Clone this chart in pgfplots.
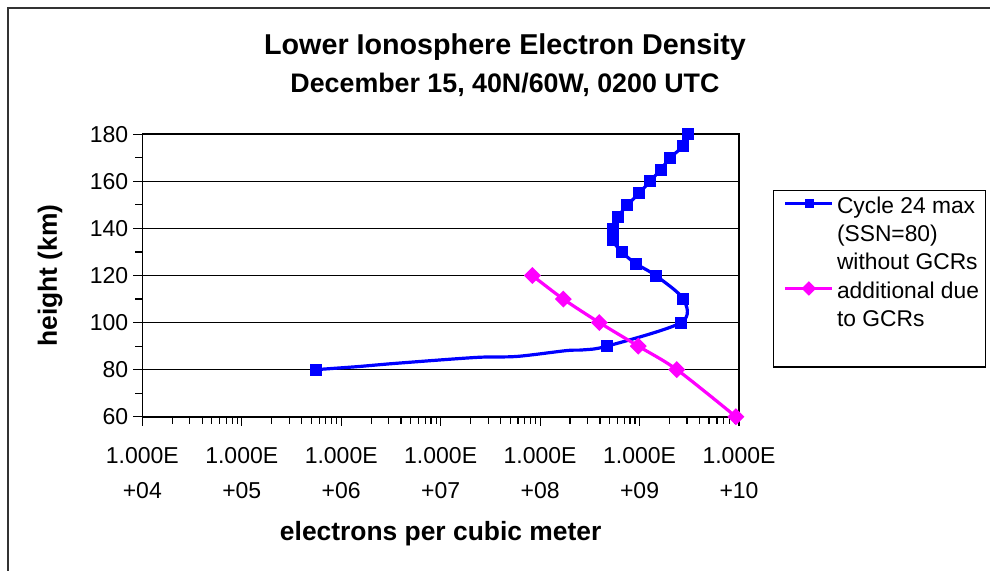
\documentclass[border=0pt]{standalone}
\usepackage{fontspec}
\setmainfont{Liberation Sans}
\usepackage{pgfplots}
\pgfplotsset{compat=1.18}
\definecolor{gcrpink}{RGB}{255,0,255}
\definecolor{cycblue}{RGB}{0,0,255}

% blue profile (km -> electrons/m^3), markers only at these points
\pgfplotstableread{
x y
3.05e9 180
2.75e9 175
2.02e9 170
1.64e9 165
1.27e9 160
9.95e8 155
7.54e8 150
6.11e8 145
5.37e8 140
5.37e8 135
6.61e8 130
9.20e8 125
1.45e9 120
2.75e9 110
2.61e9 100
4.74e8 90
5.55e5 80
}\cyclemarks

% same profile with the unmarked points of the line between 80 and 90 km
\pgfplotstableread{
x y
3.05e9 180
2.75e9 175
2.02e9 170
1.64e9 165
1.27e9 160
9.95e8 155
7.54e8 150
6.11e8 145
5.37e8 140
5.37e8 135
6.61e8 130
9.20e8 125
1.45e9 120
2.75e9 110
2.61e9 100
4.74e8 90
2.72e8 88.4
1.85e8 88.1
5.82e7 85.6
2.31e7 85.2
3.61e6 82.7
1.43e6 81.25
5.55e5 80
}\cycleline

\pgfplotstableread{
x y
8.35e7 120
1.71e8 110
3.94e8 100
9.70e8 90
2.37e9 80
9.30e9 60
}\gcr

\begin{document}
\begin{tikzpicture}
\path[use as bounding box] (0,0) rectangle (495pt,-285.5pt);
\draw[line width=1pt, black!80] (4.15pt,-300pt) -- (4.15pt,-4.15pt) -- (510pt,-4.15pt);
\begin{axis}[
    at={(71.15pt,-208.35pt)}, anchor=south west,
    scale only axis,
    width=298.35pt, height=141.2pt,
    xmode=log,
    xmin=1e4, xmax=1e10,
    ymin=60, ymax=180,
    xtick={1e4,1e5,1e6,1e7,1e8,1e9,1e10},
    xticklabels={{1.000E\\+04},{1.000E\\+05},{1.000E\\+06},{1.000E\\+07},{1.000E\\+08},{1.000E\\+09},{1.000E\\+10}},
    ytick={60,80,...,180},
    minor y tick num=1,
    ymajorgrids,
    grid style={black, line width=0.8pt},
    axis line style={black, line width=0.8pt},
    tick style={black, line width=0.6pt},
    tick align=outside,
    major tick length=4.5pt,
    minor tick length=3.5pt,
    xtick pos=lower, ytick pos=left,
    /pgf/number format/assume math mode=true,
    xticklabel style={align=center, font=\fontsize{11.5}{17.5}\selectfont, yshift=-7.5pt},
    yticklabel style={font=\fontsize{11.5}{14}\selectfont, xshift=1pt},
    title={Lower Ionosphere Electron Density\\{\fontsize{13.4}{19}\selectfont December 15, 40N/60W, 0200 UTC}},
    title style={font=\bfseries\fontsize{14.35}{19}\selectfont, align=center,
        at={(axis description cs:0.6078,1.1038)}, anchor=base},
    xlabel={electrons per cubic meter},
    ylabel={height (km)},
    label style={font=\bfseries\fontsize{13.2}{16}\selectfont},
    xlabel style={at={(axis description cs:0.5,-0.44)}, anchor=base},
    ylabel style={at={(axis description cs:-0.1547,0.5)}, anchor=center},
    legend style={at={(1.0575,0.8003)}, anchor=north west, draw=none, fill=none,
        font=\fontsize{11.4}{14}\selectfont,
        inner xsep=2pt, inner ysep=1.65pt, row sep=0pt, column sep=1.5pt,
        nodes={inner sep=0pt, text height=9.5pt, text depth=4.65pt}},
    legend cell align=left,
]
\addplot[cycblue, line width=1.6pt, smooth, forget plot] table {\cycleline};
\addplot[cycblue, only marks, mark=square*, mark size=2.75pt,
    legend image code/.code={
        \path[draw=none, fill=none] (-3.85pt,0pt) -- (0pt,0pt);
        \draw[cycblue, line width=1.6pt] (0pt,2.5pt) -- (23.5pt,2.5pt);
        \fill[cycblue] (9.75pt,0.5pt) rectangle (13.75pt,4.5pt);
    }] table {\cyclemarks};
\addlegendentry{Cycle 24 max}
\addlegendimage{empty legend}
\addlegendentry{(SSN=80)}
\addlegendimage{empty legend}
\addlegendentry{without GCRs}
\addplot[gcrpink, line width=1.6pt, smooth, mark=square*, mark size=2.2pt,
    mark options={rotate=45, solid},
    legend image code/.code={
        \path[draw=none, fill=none] (-3.85pt,0pt) -- (0pt,0pt);
        \draw[gcrpink, line width=1.6pt] (0pt,2.5pt) -- (23.5pt,2.5pt);
        \fill[gcrpink] (11.75pt,0pt) -- (14.25pt,2.5pt) -- (11.75pt,5pt) -- (9.25pt,2.5pt) -- cycle;
    }] table {\gcr};
\addlegendentry{additional due}
\addlegendimage{empty legend}
\addlegendentry{to GCRs}
\addlegendimage{empty legend}
\addlegendentry{\mbox{}}
\end{axis}
% legend frame, drawn on top
\draw[line width=0.6pt, black] (386.65pt,-95.35pt) rectangle (492.6pt,-183.5pt);
\end{tikzpicture}
\end{document}
